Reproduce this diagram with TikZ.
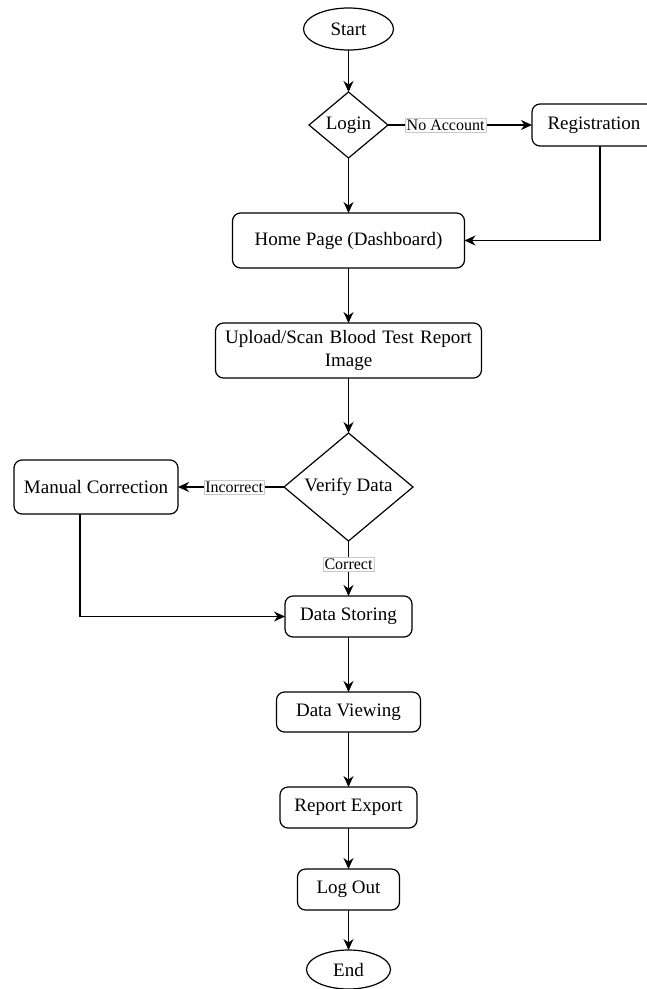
\documentclass[tikz,border=0pt]{standalone}
\usepackage{fontspec}
\setmainfont{Liberation Serif}
\usepackage{tikz}
\usetikzlibrary{shapes.geometric, arrows.meta, positioning, calc}
\definecolor{cLine}{RGB}{0,0,0}
\definecolor{cLabelBorder}{RGB}{200,200,200}
\tikzset{
	terminal/.style ={ellipse, draw=cLine, line width=1.2pt, minimum width=84pt, minimum height=39pt, inner sep=0pt, outer sep=0pt, fill=white},
	stepbox/.style  ={rectangle, rounded corners=8pt, draw=cLine, line width=1.2pt, minimum height=41pt, align=center, inner xsep=8pt, outer sep=0pt, fill=white},
	decision/.style ={diamond, draw=cLine, line width=1.2pt, inner sep=0pt, outer sep=0pt, align=center, fill=white},
	flowarrow/.style={-{Stealth[length=11pt, width=10pt, inset=3.5pt]}, line width=1.2pt, draw=cLine},
	edgelbl/.style  ={font=\fontsize{16}{19}\selectfont, fill=white, draw=cLabelBorder, line width=0.5pt, inner sep=1.5pt},
}

\begin{document}
\begin{tikzpicture}[x=1pt, y=1pt, font=\fontsize{19}{23}\selectfont]
	\useasboundingbox (0,0) rectangle (646,-989);
	\node[terminal, minimum width=90pt, minimum height=42pt] (start) at (348.5,-29) {Start};
	\node[decision, minimum width=79pt, minimum height=66pt, below=42pt of start] (login) {Login};
	\node[stepbox, minimum width=124pt, minimum height=42pt, right=144pt of login] (reg) {Registration};
	\node[stepbox, minimum width=232pt, minimum height=55pt, below=55pt of login] (home) {Home Page (Dashboard)};
	\node[stepbox, minimum width=266pt, minimum height=55pt, text width=250pt, below=55pt of home] (upload) {Upload/Scan Blood Test Report\\ Image};
	\node[decision, minimum width=129pt, minimum height=108pt, below=55pt of upload] (verify) {Verify Data};
	\node[stepbox, minimum width=164pt, minimum height=54pt, left=106pt of verify] (manual) {Manual Correction};
	\node[stepbox, minimum width=127pt, below=55pt of verify] (store) {Data Storing};
	\node[stepbox, minimum width=144pt, minimum height=40pt, below=55pt of store] (view) {Data Viewing};
	\node[stepbox, minimum width=137pt, below=55pt of view] (export) {Report Export};
	\node[stepbox, minimum width=102pt, below=41pt of export] (logout) {Log Out};
	\node[terminal, below=40pt of logout] (end) {End};
	% main flow
	\draw[flowarrow] (start) -- (login);
	\draw[flowarrow] (login) -- (home);
	\draw[flowarrow] (login.east) -- node[edgelbl, pos=0.4] {No Account} (reg.west);
	\draw[flowarrow] ($(reg.south)+(6,0)$) |- (home.east);
	\draw[flowarrow] (home) -- (upload);
	\draw[flowarrow] (upload) -- (verify);
	\draw[flowarrow] (verify.west) -- node[edgelbl, pos=0.47] {Incorrect} (manual.east);
	\draw[flowarrow] (verify.south) -- node[edgelbl, pos=0.42] {Correct} (store.north);
	\draw[flowarrow] ($(manual.south)+(-16,0)$) |- (store.west);
	\draw[flowarrow] (store) -- (view); \draw[flowarrow] (view) -- (export); \draw[flowarrow] (export) -- (logout);
	\draw[flowarrow] (logout) -- (end);
\end{tikzpicture}
\end{document}
